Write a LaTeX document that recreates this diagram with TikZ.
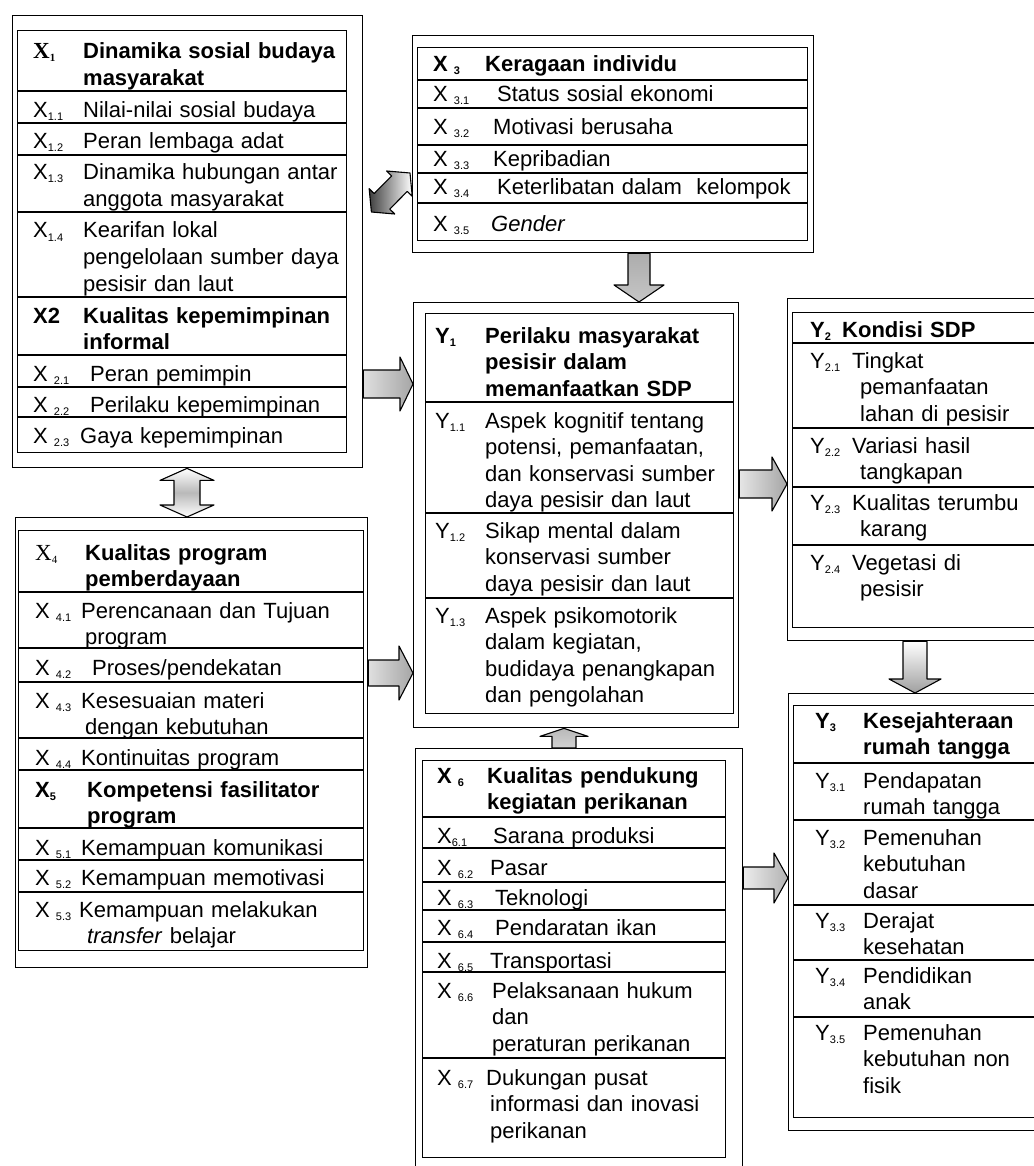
\documentclass[tikz,border=0pt]{standalone}
\usepackage{fontspec}
\setmainfont{Liberation Sans}
\newfontfamily\serifx{Liberation Serif}
\usetikzlibrary{calc}
\newcommand\sbx[1]{\raisebox{-3pt}{\fontsize{11}{11}\selectfont #1}}
% single block arrow: [options]{start}{end}{shaft half}{head half}{head length}
\newcommand\fatarrow[6][]{%
  \coordinate (fas) at (#2);
  \coordinate (fae) at (#3);
  \coordinate (fah) at ($(fae)!#6!(fas)$);
  \path[blockarrow,#1] ($(fas)!#4!90:(fae)$) -- ($(fah)!#4!90:(fae)$) -- ($(fah)!#5!90:(fae)$) -- (fae)
    -- ($(fah)!#5!-90:(fae)$) -- ($(fah)!#4!-90:(fae)$) -- ($(fas)!#4!-90:(fae)$) -- cycle;
}
% double block arrow
\newcommand\fatdarrow[6][]{%
  \coordinate (fas) at (#2);
  \coordinate (fae) at (#3);
  \coordinate (fah) at ($(fae)!#6!(fas)$);
  \coordinate (fat) at ($(fas)!#6!(fae)$);
  \path[blockarrow,#1] (fas) -- ($(fat)!#5!90:(fae)$) -- ($(fat)!#4!90:(fae)$) -- ($(fah)!#4!90:(fae)$)
    -- ($(fah)!#5!90:(fae)$) -- (fae) -- ($(fah)!#5!-90:(fae)$) -- ($(fah)!#4!-90:(fae)$)
    -- ($(fat)!#4!-90:(fae)$) -- ($(fat)!#5!-90:(fae)$) -- cycle;
}
\begin{document}
\begin{tikzpicture}[x=1pt,y=-1pt,
  frame/.style={draw=black, line width=1.4pt, inner sep=0pt, anchor=north west},
  rule/.style={draw=black, line width=1.2pt},
  lab/.style={anchor=base west, inner sep=0pt, font=\fontsize{22}{26.5}\selectfont},
  txt/.style={anchor=base west, inner sep=0pt, text width=330pt, align=left, font=\fontsize{22}{26.5}\selectfont},
  hd/.style={txt, font=\fontsize{22}{26.5}\selectfont\bfseries},
  blockarrow/.style={draw=black, line width=1.1pt, line join=round},
]
\fill[white] (0,0) rectangle (1033,1166);
\useasboundingbox (0,0) rectangle (1033,1166);

% ---------------- Box 1 : X1 / X2 ----------------
\node[frame, minimum width=350pt, minimum height=452pt] (b1) at (12,15) {};
\node[frame, minimum width=329pt, minimum height=422pt] (b1i) at (17,30) {};
\foreach \yy in {91,123,155,212,297,355,387,417}
  \draw[rule] (b1i.west |- 0,\yy) -- (b1i.east |- 0,\yy);
\node[lab, font=\fontsize{23}{26}\selectfont\serifx\bfseries] (l-x1) at (33,59) {X\sbx{1}};
\node[hd] (t-x1) at (83,59) {Dinamika sosial budaya\\masyarakat};
\node[lab] (l-x11) at (33,118) {X\sbx{1.1}};
\node[txt] (t-x11) at (83,118) {Nilai-nilai sosial budaya};
\node[lab] (l-x12) at (33,149) {X\sbx{1.2}};
\node[txt] (t-x12) at (83,149) {Peran lembaga adat};
\node[lab] (l-x13) at (33,180) {X\sbx{1.3}};
\node[txt] (t-x13) at (83,180) {Dinamika hubungan antar\\anggota masyarakat};
\node[lab] (l-x14) at (33,238) {X\sbx{1.4}};
\node[txt] (t-x14) at (83,238) {Kearifan lokal\\pengelolaan sumber daya\\pesisir dan laut};
\node[lab, font=\fontsize{22}{26}\selectfont\bfseries] (l-x2) at (33,323) {X2};
\node[hd] (t-x2) at (83,323) {Kualitas kepemimpinan\\informal};
\node[lab] (l-x21) at (33,381) {X \sbx{2.1}};
\node[txt] (t-x21) at (90,381) {Peran pemimpin};
\node[lab] (l-x22) at (33,412) {X \sbx{2.2}};
\node[txt] (t-x22) at (90,412) {Perilaku kepemimpinan};
\node[lab] (l-x23) at (33,443) {X \sbx{2.3}};
\node[txt] (t-x23) at (80,443) {Gaya kepemimpinan};

% ---------------- Box 2 : X4 / X5 ----------------
\node[frame, minimum width=352pt, minimum height=450pt] (b2) at (15,517) {};
\node[frame, minimum width=345pt, minimum height=420pt] (b2i) at (18,530) {};
\foreach \yy in {592,648,682,738,770,828,860,892}
  \draw[rule] (b2i.west |- 0,\yy) -- (b2i.east |- 0,\yy);
\node[lab, font=\fontsize{23}{26}\selectfont\serifx] (l-x4) at (35,560) {X\sbx{4}};
\node[hd] (t-x4) at (85,560) {Kualitas program\\pemberdayaan};
\node[lab] (l-x41) at (35,618) {X \sbx{4.1}};
\node[txt] (t-x41) at (81,618) {Perencanaan dan Tujuan\\\hspace*{4pt}program};
\node[lab] (l-x42) at (35,675) {X \sbx{4.2}};
\node[txt] (t-x42) at (92,675) {Proses/pendekatan};
\node[lab] (l-x43) at (35,708) {X \sbx{4.3}};
\node[txt] (t-x43) at (81,708) {Kesesuaian materi\\\hspace*{4pt}dengan kebutuhan};
\node[lab] (l-x44) at (35,765) {X \sbx{4.4}};
\node[txt] (t-x44) at (81,765) {Kontinuitas program};
\node[lab, font=\fontsize{22}{26}\selectfont\bfseries] (l-x5) at (35,797) {X\sbx{5}};
\node[hd] (t-x5) at (87,797) {Kompetensi fasilitator\\program};
\node[lab] (l-x51) at (35,855) {X \sbx{5.1}};
\node[txt] (t-x51) at (81,855) {Kemampuan komunikasi};
\node[lab] (l-x52) at (35,885) {X \sbx{5.2}};
\node[txt] (t-x52) at (81,885) {Kemampuan memotivasi};
\node[lab] (l-x53) at (35,917) {X \sbx{5.3}};
\node[txt] (t-x53) at (79,917) {Kemampuan melakukan\\\hspace*{8pt}\textit{transfer} belajar};

% ---------------- Box 3 : X3 ----------------
\node[frame, minimum width=401pt, minimum height=217pt] (b3) at (412,35) {};
\node[frame, minimum width=390pt, minimum height=193pt] (b3i) at (417,47) {};
\foreach \yy in {80,108,145,173,203}
  \draw[rule] (b3i.west |- 0,\yy) -- (b3i.east |- 0,\yy);
\node[lab, font=\fontsize{22}{26}\selectfont\bfseries] (l-x3) at (433,72) {X \sbx{3}};
\node[hd] (t-x3) at (485,72) {Keragaan individu};
\node[lab] (l-x31) at (433,102) {X \sbx{3.1}};
\node[txt] (t-x31) at (497,102) {Status sosial ekonomi};
\node[lab] (l-x32) at (433,135) {X \sbx{3.2}};
\node[txt] (t-x32) at (493,135) {Motivasi berusaha};
\node[lab] (l-x33) at (433,167) {X \sbx{3.3}};
\node[txt] (t-x33) at (493,167) {Kepribadian};
\node[lab] (l-x34) at (433,195) {X \sbx{3.4}};
\node[txt] (t-x34) at (497,195) {Keterlibatan dalam\ \ kelompok};
\node[lab] (l-x35) at (433,232) {X \sbx{3.5}};
\node[txt] (t-x35) at (491,232) {\textit{Gender}};

% ---------------- Box Y1 ----------------
\node[frame, minimum width=325pt, minimum height=425pt] (y1) at (413,302) {};
\node[frame, minimum width=308pt, minimum height=400pt] (y1i) at (425,313) {};
\foreach \yy in {402,513,598}
  \draw[rule] (y1i.west |- 0,\yy) -- (y1i.east |- 0,\yy);
\node[lab, font=\fontsize{22}{26}\selectfont\bfseries] (l-y1) at (435,343) {Y\sbx{1}};
\node[hd] (t-y1) at (485,343) {Perilaku masyarakat\\pesisir dalam\\memanfaatkan SDP};
\node[lab] (l-y11) at (435,428) {Y\sbx{1.1}};
\node[txt] (t-y11) at (485,428) {Aspek kognitif tentang\\potensi, pemanfaatan,\\dan konservasi sumber\\daya pesisir dan laut};
\node[lab] (l-y12) at (435,538) {Y\sbx{1.2}};
\node[txt] (t-y12) at (485,538) {Sikap mental dalam\\konservasi sumber\\daya pesisir dan laut};
\node[lab] (l-y13) at (435,623) {Y\sbx{1.3}};
\node[txt] (t-y13) at (485,623) {Aspek psikomotorik\\dalam kegiatan,\\budidaya penangkapan\\dan pengolahan};

% ---------------- Box X6 ----------------
\node[frame, minimum width=327pt, minimum height=427pt] (x6) at (415,748) {};
\node[frame, minimum width=303pt, minimum height=397pt] (x6i) at (422,760) {};
\foreach \yy in {817,848,882,910,942,972,1058}
  \draw[rule] (x6i.west |- 0,\yy) -- (x6i.east |- 0,\yy);
\node[lab, font=\fontsize{22}{26}\selectfont\bfseries] (l-x6) at (437,783) {X \sbx{6}};
\node[hd] (t-x6) at (487,783) {Kualitas pendukung\\kegiatan perikanan};
\node[lab] (l-x61) at (437,843) {X\sbx{6.1}};
\node[txt] (t-x61) at (493,843) {Sarana produksi};
\node[lab] (l-x62) at (437,875) {X \sbx{6.2}};
\node[txt] (t-x62) at (490,875) {Pasar};
\node[lab] (l-x63) at (437,905) {X \sbx{6.3}};
\node[txt] (t-x63) at (495,905) {Teknologi};
\node[lab] (l-x64) at (437,935) {X \sbx{6.4}};
\node[txt] (t-x64) at (495,935) {Pendaratan ikan};
\node[lab] (l-x65) at (437,968) {X \sbx{6.5}};
\node[txt] (t-x65) at (490,968) {Transportasi};
\node[lab] (l-x66) at (437,998) {X \sbx{6.6}};
\node[txt] (t-x66) at (492,998) {Pelaksanaan hukum\\dan\\peraturan perikanan};
\node[lab] (l-x67) at (437,1085) {X \sbx{6.7}};
\node[txt] (t-x67) at (486,1085) {Dukungan pusat\\\hspace*{4pt}informasi dan inovasi\\\hspace*{4pt}perikanan};

% ---------------- Box Y2 ----------------
\node[frame, minimum width=258pt, minimum height=342pt] (y2) at (787,298) {};
\node[frame, minimum width=248pt, minimum height=315pt] (y2i) at (792,312) {};
\foreach \yy in {343,428,487,545}
  \draw[rule] (y2i.west |- 0,\yy) -- (y2i.east |- 0,\yy);
\node[lab, font=\fontsize{22}{26}\selectfont\bfseries] (l-y2) at (810,337) {Y\sbx{2}};
\node[hd] (t-y2) at (842,337) {Kondisi SDP};
\node[lab] (l-y21) at (810,368) {Y\sbx{2.1}};
\node[txt] (t-y21) at (852,368) {Tingkat\\\hspace*{8pt}pemanfaatan\\\hspace*{8pt}lahan di pesisir};
\node[lab] (l-y22) at (810,453) {Y\sbx{2.2}};
\node[txt] (t-y22) at (852,453) {Variasi hasil\\\hspace*{8pt}tangkapan};
\node[lab] (l-y23) at (810,510) {Y\sbx{2.3}};
\node[txt] (t-y23) at (852,510) {Kualitas terumbu\\\hspace*{8pt}karang};
\node[lab] (l-y24) at (810,570) {Y\sbx{2.4}};
\node[txt] (t-y24) at (852,570) {Vegetasi di\\\hspace*{8pt}pesisir};

% ---------------- Box Y3 ----------------
\node[frame, minimum width=257pt, minimum height=437pt] (y3) at (788,693) {};
\node[frame, minimum width=247pt, minimum height=412pt] (y3i) at (793,705) {};
\foreach \yy in {763,820,905,960,1017}
  \draw[rule] (y3i.west |- 0,\yy) -- (y3i.east |- 0,\yy);
\node[lab, font=\fontsize{22}{26}\selectfont\bfseries] (l-y3) at (815,728) {Y\sbx{3}};
\node[hd] (t-y3) at (863,728) {Kesejahteraan\\rumah tangga};
\node[lab] (l-y31) at (815,788) {Y\sbx{3.1}};
\node[txt] (t-y31) at (863,788) {Pendapatan\\rumah tangga};
\node[lab] (l-y32) at (815,845) {Y\sbx{3.2}};
\node[txt] (t-y32) at (863,845) {Pemenuhan\\kebutuhan\\dasar};
\node[lab] (l-y33) at (815,928) {Y\sbx{3.3}};
\node[txt] (t-y33) at (863,928) {Derajat\\kesehatan};
\node[lab] (l-y34) at (815,983) {Y\sbx{3.4}};
\node[txt] (t-y34) at (863,983) {Pendidikan\\anak};
\node[lab] (l-y35) at (815,1040) {Y\sbx{3.5}};
\node[txt] (t-y35) at (863,1040) {Pemenuhan\\kebutuhan non\\fisik};

% ---------------- Block arrows ----------------
\coordinate (d1) at ($(b1.north east)+(8,197)$);
\coordinate (d2) at ($(b3.north west)+(-2,138)$);
\fatdarrow[left color=black!75, right color=white]{d1}{d2}{11pt}{18pt}{15pt}
\fatdarrow[top color=white, bottom color=white, middle color=gray!55]{b1.south -| 187,0}{b2.north -| 187,0}{13pt}{27pt}{12pt}
\fatarrow[left color=gray!25, right color=gray!70]{b1.east |- 0,384}{y1.west |- 0,384}{14pt}{27pt}{13pt}
\fatarrow[left color=gray!25, right color=gray!70]{b2.east |- 0,673}{y1.west |- 0,673}{13pt}{27pt}{14pt}
\fatarrow[top color=gray!65, bottom color=gray!45]{b3.south -| 639,0}{y1.north -| 639,0}{11pt}{25pt}{17pt}
\fatarrow[left color=gray!20, right color=gray!70]{y1.east |- 0,484}{y2.west |- 0,484}{14pt}{27pt}{15pt}
\fatarrow[top color=white, bottom color=gray!75]{y2.south -| 915,0}{y3.north -| 915,0}{12pt}{26pt}{14pt}
\fatarrow[left color=gray!15, right color=gray!60]{x6.east |- 0,878}{y3.west |- 0,878}{11pt}{25pt}{14pt}
\fatarrow[top color=gray!55, bottom color=gray!35]{x6.north -| 564,0}{y1.south -| 564,0}{12pt}{24pt}{8pt}
\end{tikzpicture}
\end{document}
